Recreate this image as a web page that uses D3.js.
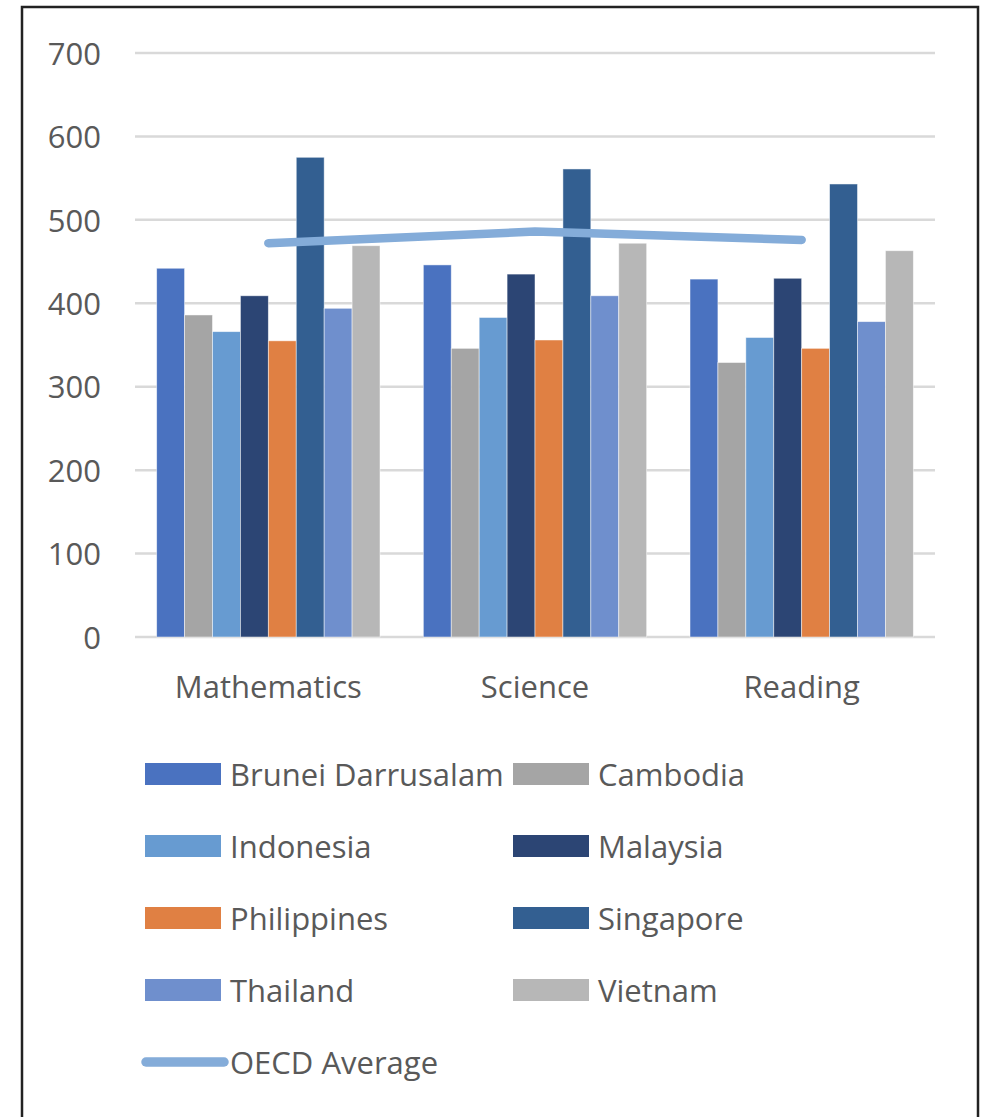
<!DOCTYPE html>
<html>
<head>
<meta charset="utf-8">
<script src="https://cdn.jsdelivr.net/npm/d3@7/dist/d3.min.js"></script>
<style>
  html, body { margin: 0; padding: 0; background: #fff; }
  svg { display: block; }
  text { font-family: "Open Sans", "Noto Sans", sans-serif; fill: #595959; }
</style>
</head>
<body>
<svg id="chart" width="990" height="1117"></svg>
<script>
// Subjects on the x axis
const subjects = ["Mathematics", "Science", "Reading"];

// Countries (bar series) in drawing order
const countries = ["Brunei Darrusalam", "Cambodia", "Indonesia", "Malaysia",
                   "Philippines", "Singapore", "Thailand", "Vietnam"];

// Mean scores per country: [Mathematics, Science, Reading]
const brunei      = [442, 446, 429];
const cambodia    = [386, 346, 329];
const indonesia   = [366, 383, 359];
const malaysia    = [409, 435, 430];
const philippines = [355, 356, 346];
const singapore   = [575, 561, 543];
const thailand    = [394, 409, 378];
const vietnam     = [469, 472, 463];

// OECD average line
const oecdAverage = [472, 486, 476];

// Y axis ticks
const yTicks = [0, 100, 200, 300, 400, 500, 600, 700];

const seriesValues = [brunei, cambodia, indonesia, malaysia,
                      philippines, singapore, thailand, vietnam];
const seriesColors = ["#4a72c0", "#a5a5a5", "#679bd1", "#2c4574",
                      "#e08043", "#335f91", "#6f8fcd", "#b7b7b7"];
const lineColor = "#84acd9";
const fontSize = "31px";

const svg = d3.select("#chart");

// Outer frame
svg.append("rect")
  .attr("x", 22).attr("y", 7)
  .attr("width", 956).attr("height", 1130)
  .attr("fill", "#fff")
  .attr("stroke", "#222").attr("stroke-width", 2.5);

const plot = { left: 135, right: 935, top: 53, bottom: 637 };

const x = d3.scaleBand()
  .domain(subjects)
  .range([plot.left, plot.right])
  .paddingInner(0.1625)
  .paddingOuter(0.08125);

const xInner = d3.scaleBand()
  .domain(countries)
  .range([0, x.bandwidth()]);

const y = d3.scaleLinear()
  .domain([0, 700])
  .range([plot.bottom, plot.top]);

// Gridlines
svg.append("g")
  .selectAll("line")
  .data(yTicks)
  .join("line")
  .attr("x1", plot.left).attr("x2", plot.right)
  .attr("y1", d => y(d)).attr("y2", d => y(d))
  .attr("stroke", "#d9d9d9").attr("stroke-width", 2.5);

// Y axis labels
const yAxis = svg.append("g")
  .attr("transform", `translate(${plot.left - 34},0)`)
  .call(d3.axisLeft(y).tickValues(yTicks).tickSize(0).tickPadding(0));
yAxis.select(".domain").remove();
yAxis.selectAll("text")
  .attr("fill", "#595959")
  .style("font-family", "'Open Sans', sans-serif")
  .style("font-size", fontSize)
  .attr("dy", "0.36em");

// Bars
const groups = svg.append("g")
  .selectAll("g")
  .data(subjects)
  .join("g")
  .attr("transform", s => `translate(${x(s)},0)`);

groups.selectAll("rect")
  .data((s, si) => countries.map((c, ci) => ({ c, ci, v: seriesValues[ci][si] })))
  .join("rect")
  .attr("x", d => xInner(d.c))
  .attr("width", xInner.bandwidth())
  .attr("y", d => y(d.v))
  .attr("height", d => y(0) - y(d.v))
  .attr("fill", d => seriesColors[d.ci])
  .attr("stroke", "rgba(255,255,255,0.6)")
  .attr("stroke-width", 0.8);

// OECD average line
const line = d3.line()
  .x((d, i) => x(subjects[i]) + x.bandwidth() / 2)
  .y(d => y(d));

svg.append("path")
  .datum(oecdAverage)
  .attr("d", line)
  .attr("fill", "none")
  .attr("stroke", lineColor)
  .attr("stroke-width", 8.5)
  .attr("stroke-linecap", "round")
  .attr("stroke-linejoin", "round");

// Category labels
const xAxis = svg.append("g")
  .attr("transform", `translate(0,${plot.bottom})`)
  .call(d3.axisBottom(x).tickSize(0).tickPadding(0));
xAxis.select(".domain").remove();
xAxis.selectAll("text")
  .attr("fill", "#595959")
  .attr("y", 61)
  .attr("dy", 0)
  .style("font-family", "'Open Sans', sans-serif")
  .style("font-size", fontSize);

// Legend
const rowY = r => 774 + r * 72;
const colX = [145, 513];

const legendItems = countries.map((c, i) => ({
  label: c, color: seriesColors[i], type: "bar",
  col: i % 2, row: Math.floor(i / 2)
}));
legendItems.push({ label: "OECD Average", color: lineColor, type: "line", col: 0, row: 4 });

const legend = svg.append("g");
const li = legend.selectAll("g")
  .data(legendItems)
  .join("g")
  .attr("transform", d => `translate(${colX[d.col]},${rowY(d.row)})`);

li.filter(d => d.type === "bar")
  .append("rect")
  .attr("x", 0).attr("y", -11)
  .attr("width", 76).attr("height", 22)
  .attr("fill", d => d.color);

li.filter(d => d.type === "line")
  .append("line")
  .attr("x1", 1).attr("x2", 79)
  .attr("y1", 0).attr("y2", 0)
  .attr("stroke", d => d.color)
  .attr("stroke-width", 9.5)
  .attr("stroke-linecap", "round");

li.append("text")
  .attr("x", 85)
  .attr("y", 12)
  .style("font-size", fontSize)
  .text(d => d.label);
</script>
</body>
</html>
